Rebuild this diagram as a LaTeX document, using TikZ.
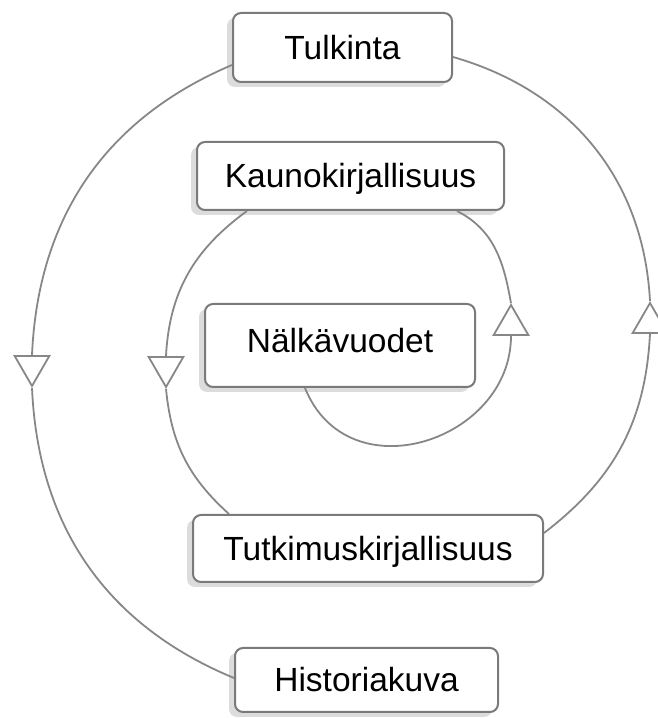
\documentclass[tikz,border=0pt]{standalone}
\usepackage{fontspec}
\setmainfont{Liberation Sans}
\usetikzlibrary{shapes.geometric,shadows}
\definecolor{lin}{HTML}{878787}
\definecolor{bord}{HTML}{7A7A7A}
\definecolor{shad}{HTML}{DCDCDC}
\begin{document}
\begin{tikzpicture}[x=1pt,y=1pt,
 box/.style={draw=bord, line width=2pt, fill=white, rounded corners=8pt, inner sep=0pt,
   font=\fontsize{33.5}{40}\selectfont, text=black, text height=24pt, text depth=0pt,
   drop shadow={shadow xshift=-6pt, shadow yshift=-5pt, fill=shad, opacity=1}},
 conn/.style={draw=lin, line width=1.8pt},
 tridown/.style={regular polygon, regular polygon sides=3, shape border rotate=180, draw=lin,
   line width=1.8pt, fill=white, minimum size=40pt, inner sep=0pt},
 triup/.style={regular polygon, regular polygon sides=3, draw=lin,
   line width=1.8pt, fill=white, minimum size=40pt, inner sep=0pt}]
\useasboundingbox (0,0) rectangle (657,718);
% boxes
\node[box, minimum width=219pt, minimum height=69pt] (tul) at (342.5,670.5) {Tulkinta};
\node[box, minimum width=307pt, minimum height=68pt] (kau) at (350.5,542) {Kaunokirjallisuus};
\node[box, minimum width=270pt, minimum height=83pt, text depth=10pt] (nal) at (340,372.5) {Nälkävuodet};
\node[box, minimum width=350pt, minimum height=67pt] (tut) at (368,169.5) {Tutkimuskirjallisuus};
\node[box, minimum width=263pt, minimum height=64pt] (his) at (366.5,38) {Historiakuva};
% arrow markers
\node[tridown] (a1) at (32,352) {};
\node[tridown] (a2) at (166,351) {};
\node[triup] (a3) at (511,393) {};
\node[triup] (a4) at (650,395) {};
% connectors
\draw[conn] ([yshift=-17.5pt]tul.west) to[out=203, in=87.5] (a1.north);
\draw[conn] (a1.south) to[out=272.5, in=157.5] ([yshift=2pt]his.west);
\draw[conn] ([yshift=15.5pt]tut.east) to[out=37.5, in=267] (a4.south);
\draw[conn] (a4.north) to[out=93, in=344] ([yshift=-9.5pt]tul.east);
\draw[conn] ([xshift=-103.5pt]kau.south) to[out=216, in=87] (a2.north);
\draw[conn] (a2.south) to[out=275.5, in=138] ([xshift=-139pt]tut.north);
\draw[conn] ([xshift=-35pt]nal.south) to[out=292, in=270, out distance=115pt, in distance=105pt] (a3.south);
\draw[conn] (a3.north) to[out=100, in=333] ([xshift=106.5pt]kau.south);
\end{tikzpicture}
\end{document}
